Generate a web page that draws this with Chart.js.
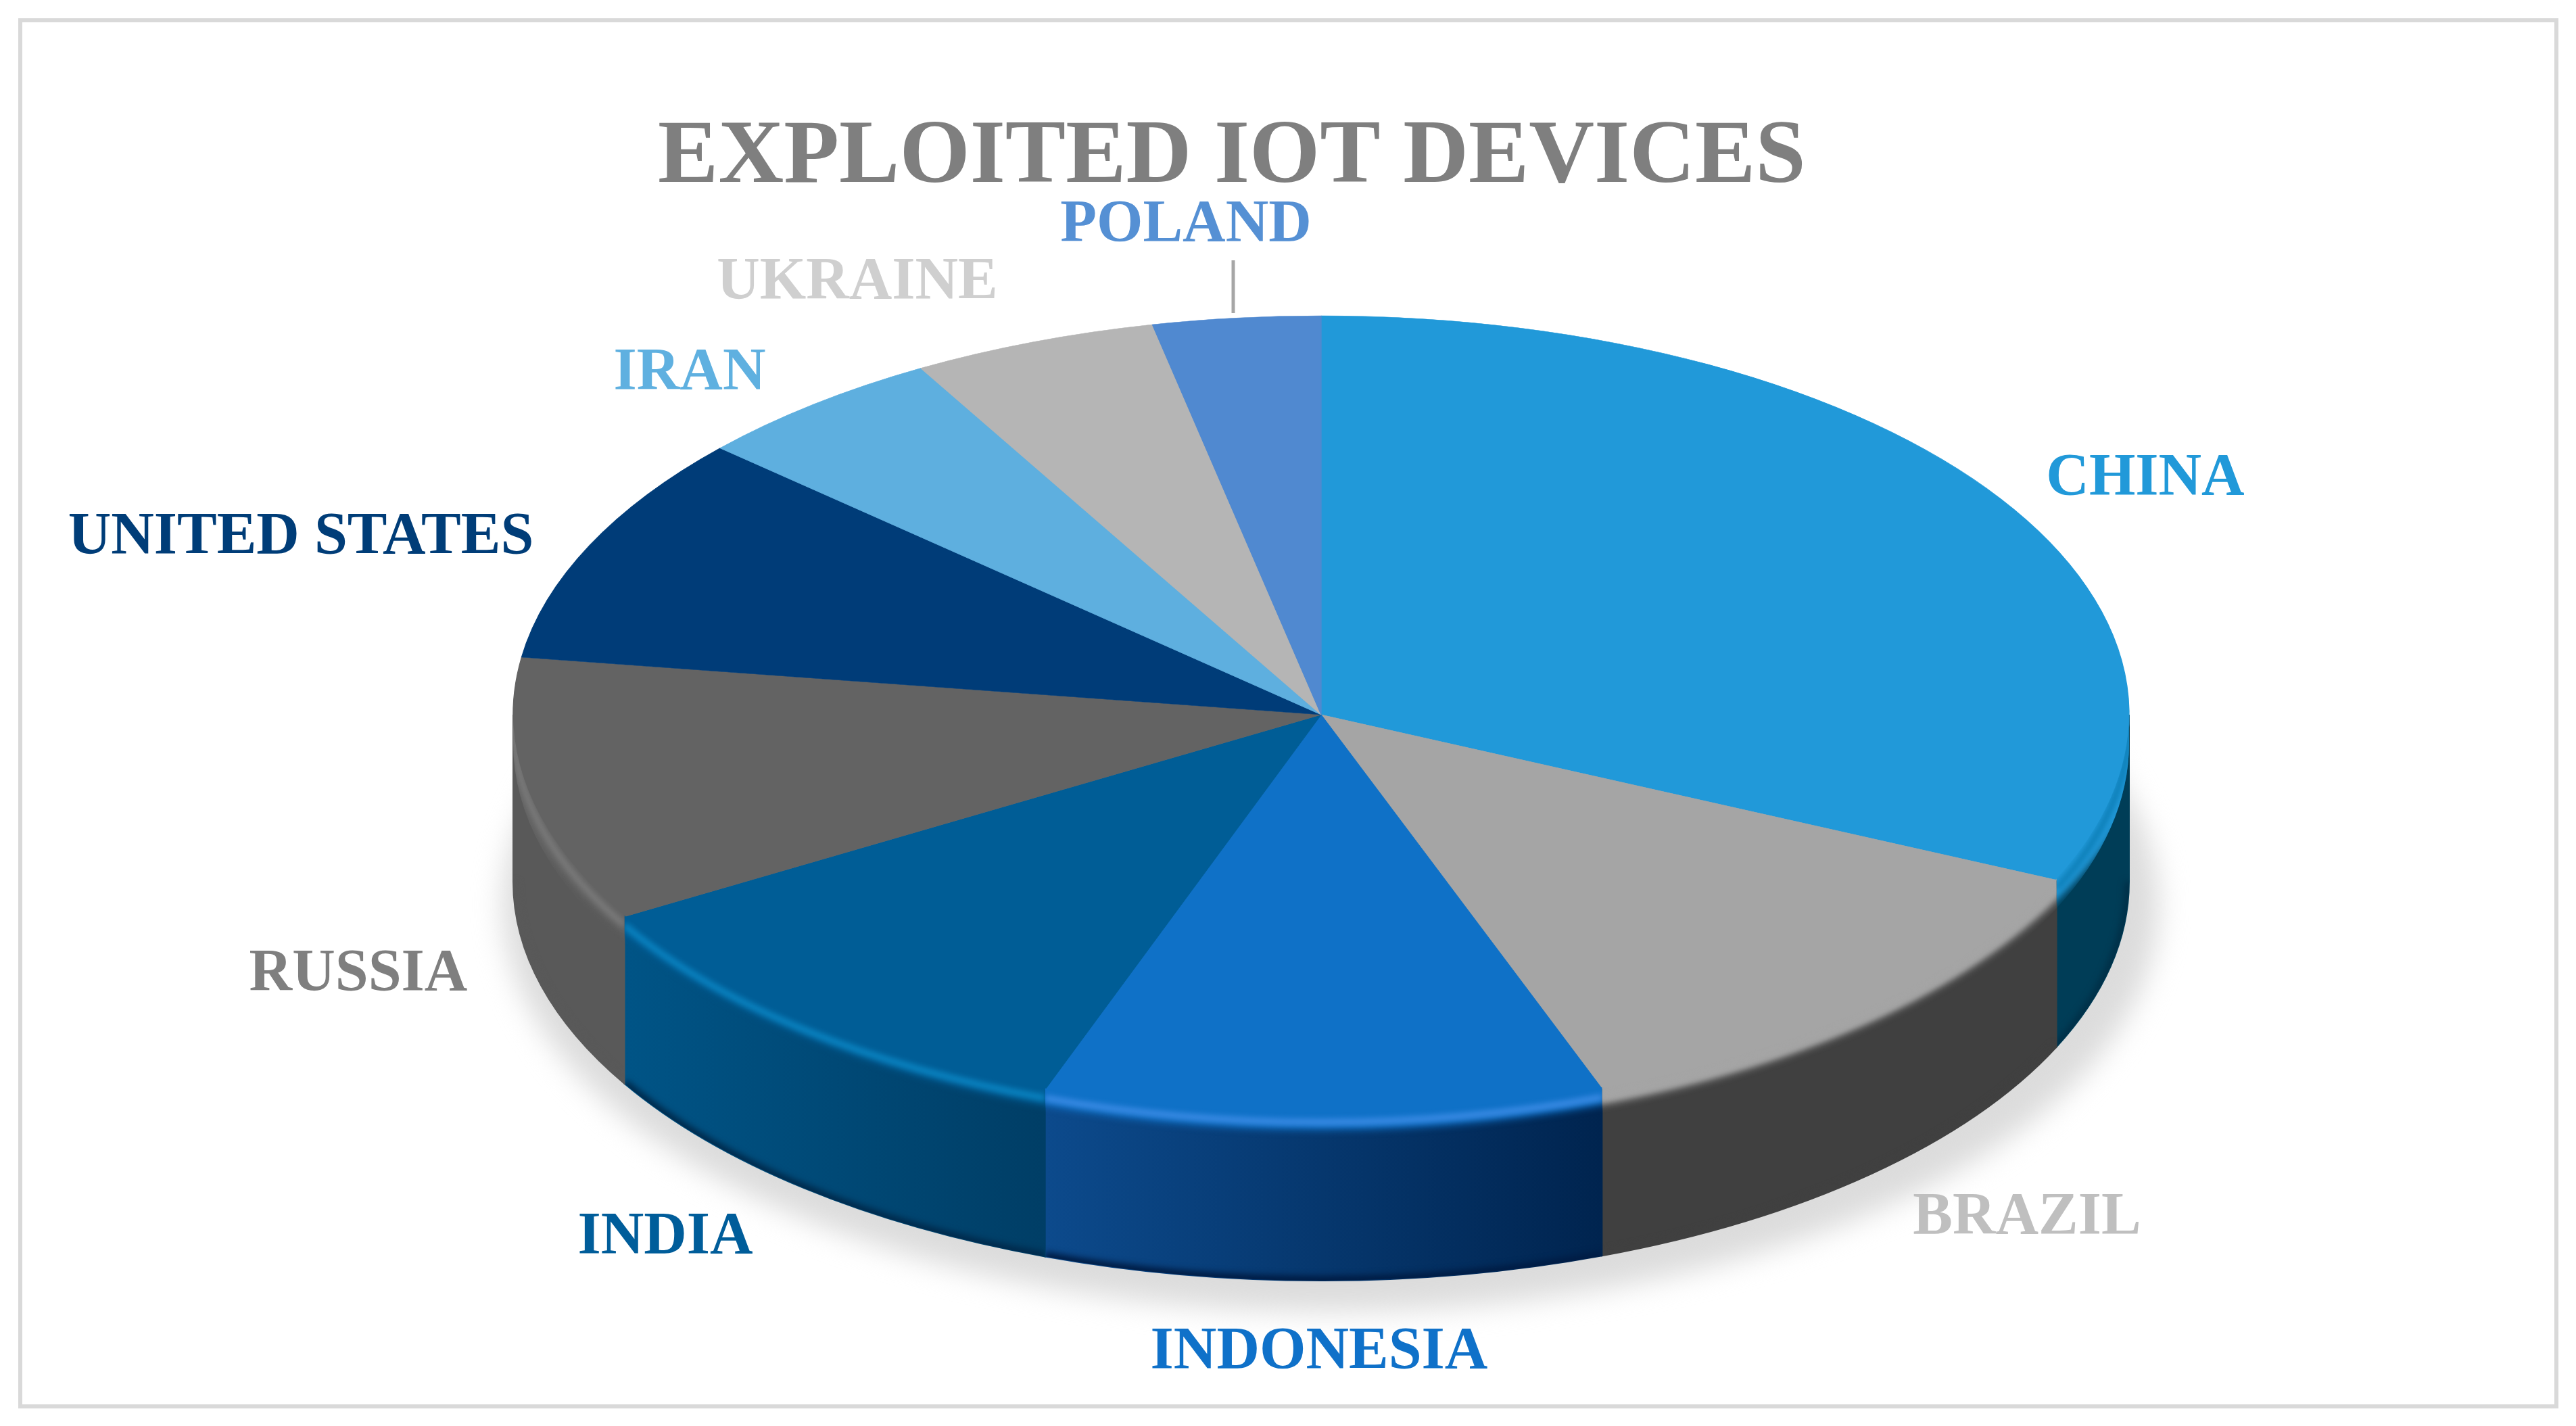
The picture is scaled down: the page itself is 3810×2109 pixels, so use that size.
<!DOCTYPE html>
<html>
<head>
<meta charset="utf-8">
<title>Exploited IoT devices</title>
<script src="https://cdn.jsdelivr.net/npm/chart.js@4"></script>
<style>
  html, body { margin: 0; padding: 0; background: #fff; }
  canvas { display: block; }
</style>
</head>
<body>
<canvas id="pieChart" width="3810" height="2109"></canvas>
<script>
// Chart data
const categories = ['CHINA', 'BRAZIL', 'INDONESIA', 'INDIA', 'RUSSIA', 'UNITED STATES', 'IRAN', 'UKRAINE', 'POLAND'];
const values = [31.8, 12.55, 11.2, 11.0, 10.75, 9.35, 5.1, 4.9, 3.35];
const faceColors = ['#2199d9', '#a5a5a5', '#0f71c7', '#005d96', '#636363', '#003c78', '#5eafdf', '#b5b5b5', '#5089d0'];
const textColors = ['#2199d9', '#bfbfbf', '#0f71c9', '#005d9a', '#7f7f7f', '#003d78', '#5fb0e0', '#cfcfcf', '#5590d4'];

// Look of the fake 3D disc
const pie3d = { x: 1954, y: 1057, rx: 1195, ry: 590, depth: 247, bevel: 28 };
const wallLeft = ['#003d57', '#404040', '#0c4a8c', '#005486', '#595959', '#002a54', '#3f7a9c', '#7f7f7f', '#385f92'];
const wallRight = ['#003d57', '#404040', '#00244f', '#003e66', '#595959', '#002a54', '#3f7a9c', '#7f7f7f', '#385f92'];
const rimColors = ['#0c7db5', '#a5a5a5', '#3d8ce6', '#0a86c4', '#7c7c7c', '#003c78', '#5eafdf', '#b5b5b5', '#5089d0'];
const wallEdges = ['#003048', '#404040', '#001c44', '#002a4c', '#595959', '#002a54', '#3f7a9c', '#7f7f7f', '#385f92'];
const labelSpots = [[3173, 708], [2998, 1801], [1951, 2000], [984, 1830], [530, 1441], [445, 795], [1020, 552], [1268, 418], [1754, 333]];

// band of the disc side between two heights, with straight vertical ends
function sidePath(ctx, a0, a1, top, bottom) {
  ctx.beginPath();
  ctx.ellipse(pie3d.x, pie3d.y + top, pie3d.rx, pie3d.ry, 0, a0, a1);
  ctx.ellipse(pie3d.x, pie3d.y + bottom, pie3d.rx, pie3d.ry, 0, a1, a0, true);
  ctx.closePath();
}

const framePlugin = {
  id: 'frame',
  beforeDraw(chart) {
    const ctx = chart.ctx;
    ctx.save();
    ctx.fillStyle = '#fff';
    ctx.fillRect(0, 0, chart.width, chart.height);
    ctx.strokeStyle = '#d9d9d9';
    ctx.lineWidth = 6;
    ctx.strokeRect(30, 30, 3751, 2050);
    ctx.restore();
  }
};

const discPlugin = {
  id: 'disc',
  beforeDatasetsDraw(chart) {
    const ctx = chart.ctx;
    const arcs = chart.getDatasetMeta(0).data;

    // soft shadow under the disc
    ctx.save();
    ctx.filter = 'blur(20px)';
    ctx.fillStyle = '#dcdcdc';
    ctx.beginPath();
    ctx.ellipse(pie3d.x + 14, pie3d.y + pie3d.depth + 34, pie3d.rx + 30, pie3d.ry + 12, 0, 0, Math.PI * 2);
    ctx.fill();
    ctx.restore();

    // side walls, only the front half shows
    arcs.forEach((arc, i) => {
      const a0 = Math.max(arc.startAngle, 0);
      const a1 = Math.min(arc.endAngle, Math.PI);
      if (a1 <= a0) return;
      const xa = pie3d.x + pie3d.rx * Math.cos(a0);
      const xb = pie3d.x + pie3d.rx * Math.cos(a1);
      const grad = ctx.createLinearGradient(xb, 0, xa, 0);
      grad.addColorStop(0, wallLeft[i]);
      grad.addColorStop(1, wallRight[i]);
      ctx.save();
      ctx.fillStyle = grad;
      ctx.strokeStyle = grad;
      ctx.lineWidth = 2;
      sidePath(ctx, a0, a1, 0, pie3d.depth);
      ctx.stroke();
      ctx.fill();
      ctx.clip();
      // darker lower edge
      ctx.filter = 'blur(5px)';
      ctx.strokeStyle = wallEdges[i];
      ctx.lineWidth = 14;
      ctx.beginPath();
      ctx.ellipse(pie3d.x, pie3d.y + pie3d.depth, pie3d.rx, pie3d.ry, 0, a0, a1);
      ctx.stroke();
      ctx.restore();
    });

    // top face: squash the library's circle into the ellipse
    const first = arcs[0];
    const sx = pie3d.rx / first.outerRadius;
    const sy = pie3d.ry / first.outerRadius;
    ctx.save();
    ctx.translate(pie3d.x, pie3d.y);
    ctx.scale(sx, sy);
    ctx.translate(-first.x, -first.y);
  },
  afterDatasetsDraw(chart) {
    const ctx = chart.ctx;
    ctx.restore();
    const arcs = chart.getDatasetMeta(0).data;

    // bevel: the face colour rolls over the front rim with a soft edge
    arcs.forEach((arc, i) => {
      const a0 = Math.max(arc.startAngle, 0);
      const a1 = Math.min(arc.endAngle, Math.PI);
      if (a1 <= a0) return;
      ctx.save();
      sidePath(ctx, a0, a1, -2, pie3d.bevel + 14);
      ctx.clip();
      ctx.filter = 'blur(6px)';
      ctx.fillStyle = faceColors[i];
      ctx.beginPath();
      ctx.ellipse(pie3d.x, pie3d.y - 30, pie3d.rx + 40, pie3d.ry + 30 + pie3d.bevel - 4, 0, 0, Math.PI);
      ctx.closePath();
      ctx.fill();
      ctx.filter = 'blur(4px)';
      ctx.strokeStyle = rimColors[i];
      ctx.lineWidth = 9;
      ctx.beginPath();
      ctx.ellipse(pie3d.x, pie3d.y + pie3d.bevel * 0.45, pie3d.rx, pie3d.ry, 0, a0, a1);
      ctx.stroke();
      ctx.restore();
    });
  },
  afterDraw(chart) {
    const ctx = chart.ctx;
    ctx.save();
    // Poland leader line
    ctx.strokeStyle = '#a6a6a6';
    ctx.lineWidth = 5;
    ctx.beginPath();
    ctx.moveTo(1824, 385);
    ctx.lineTo(1824, 463);
    ctx.stroke();
    // country names
    ctx.font = 'bold 88px "Liberation Serif"';
    ctx.textAlign = 'center';
    ctx.textBaseline = 'middle';
    categories.forEach((name, i) => {
      ctx.fillStyle = textColors[i];
      ctx.fillText(name, labelSpots[i][0], labelSpots[i][1]);
    });
    ctx.restore();
  }
};

const ctx = document.getElementById('pieChart').getContext('2d');
new Chart(ctx, {
  type: 'pie',
  data: {
    labels: categories,
    datasets: [{
      data: values,
      backgroundColor: faceColors,
      borderColor: faceColors,
      borderWidth: 1,
      clip: false
    }]
  },
  options: {
    responsive: false,
    animation: false,
    layout: { padding: { top: 154, right: 166 } },
    plugins: {
      legend: { display: false },
      tooltip: { enabled: false },
      title: {
        display: true,
        text: 'EXPLOITED IOT DEVICES',
        color: '#7f7f7f',
        font: { family: '"Liberation Serif"', size: 134, weight: 'bold' },
        padding: 0
      }
    }
  },
  plugins: [framePlugin, discPlugin]
});
</script>
</body>
</html>
